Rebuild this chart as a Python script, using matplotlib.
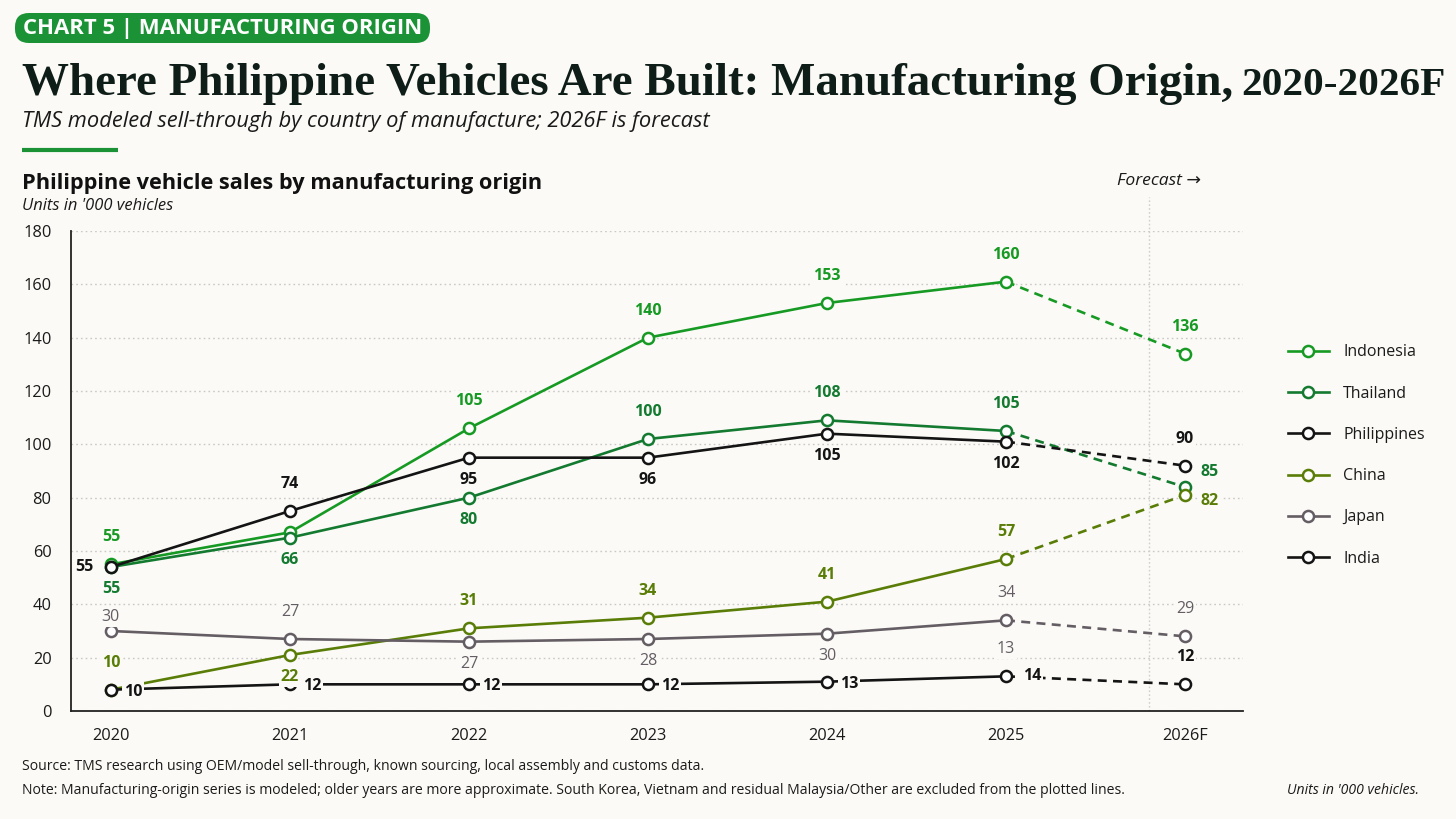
import matplotlib
matplotlib.use("Agg")
from matplotlib import pyplot as plt
from matplotlib.patches import FancyBboxPatch

# ---- data ----
years = ['2020', '2021', '2022', '2023', '2024', '2025', '2026F']
names = ['Indonesia', 'Thailand', 'Philippines', 'China', 'Japan', 'India']

indonesia = [55, 67, 106, 140, 153, 161, 134]
thailand = [54, 65, 80, 102, 109, 105, 84]
philippines = [54, 75, 95, 95, 104, 101, 92]
china = [8, 21, 31, 35, 41, 57, 81]
japan = [30, 27, 26, 27, 29, 34, 28]
india = [8, 10, 10, 10, 11, 13, 10]

# printed value labels and where they sit (a=above, b=below, r=right ...)
lab_indonesia = ['55', None, '105', '140', '153', '160', '136']
pos_indonesia = ['a', None, 'a', 'a', 'a', 'a', 'a']
lab_thailand = ['55', '66', '80', '100', '108', '105', '85']
pos_thailand = ['b', 'b', 'b', 'a', 'a', 'a', 'ru']
lab_philippines = ['55', '74', '95', '96', '105', '102', '90']
pos_philippines = ['l', 'a', 'b', 'b', 'b', 'b', 'a']
lab_china = ['10', '22', '31', '34', '41', '57', '82']
pos_china = ['a', 'b', 'a', 'a', 'a', 'a', 'rd']
lab_japan = ['30', '27', '27', '28', '30', '34', '29']
pos_japan = ['a2', 'a', 'b', 'b', 'b', 'a', 'a']
lab_japan_extra = [None, None, None, None, None, '13', None]
lab_india = ['10', '12', '12', '12', '13', '14', '12']
pos_india = ['r', 'r', 'r', 'r', 'r', 'r2', 'a']

series = [indonesia, thailand, philippines, china, japan, india]
labels = [lab_indonesia, lab_thailand, lab_philippines, lab_china, lab_japan, lab_india]
places = [pos_indonesia, pos_thailand, pos_philippines, pos_china, pos_japan, pos_india]

colors = ['#179a24', '#137a30', '#141414', '#5a7d08', '#645e64', '#141414']
weights = ['bold', 'bold', 'bold', 'bold', 'normal', 'bold']

BG = '#fbfaf6'
GREEN = '#1b9235'
INK = '#1a1a1a'
W, H = 1456, 819

# offsets in pixels (dx, dy up)
offs = {'a': (0, 27), 'a2': (0, 14), 'b': (0, -22), 'b2': (0, -29),
        'r': (22, -2), 'r2': (26, 0), 'l': (-27, 0),
        'ru': (25, 15), 'rd': (25, -6)}

plt.rcParams['font.family'] = ['Open Sans', 'DejaVu Sans']

fig = plt.figure(figsize=(W / 100, H / 100), dpi=100, facecolor=BG)
r = fig.canvas.get_renderer()

# pixel overlay for header / footer
ov = fig.add_axes([0, 0, 1, 1], zorder=-1)
ov.set_xlim(0, W)
ov.set_ylim(H, 0)
ov.axis('off')


def fit(t, width):
    # scale font so the text is `width` pixels wide
    bb = t.get_window_extent(r)
    t.set_fontsize(t.get_fontsize() * width / bb.width)
    return t


ax = fig.add_axes([71 / W, 1 - 711 / H, (1243 - 71) / W, (711 - 231) / H])
ax.set_facecolor(BG)

xs = list(range(len(years)))
for i, s in enumerate(series):
    c = colors[i]
    ax.plot(xs[:6], s[:6], color=c, lw=1.9, marker='o', ms=8, mfc='white',
            mec=c, mew=1.8, zorder=4, label=names[i])
    ax.plot(xs[5:], s[5:], color=c, lw=1.9, ls=(0, (3.4, 2.4)), marker='o',
            ms=8, mfc='white', mec=c, mew=1.8, markevery=[1], zorder=3)
    for j, t in enumerate(labels[i]):
        if t is None:
            continue
        dx, dy = offs[places[i][j]]
        ax.annotate(t, (xs[j], s[j]), xytext=(dx * 0.72, dy * 0.72),
                    textcoords='offset points', ha='center', va='center',
                    fontsize=11.5, color=c, fontweight=weights[i], zorder=6,
                    bbox=dict(boxstyle='square,pad=0.12', fc=BG, ec='none'))
    if names[i] == 'Japan':
        for j, t in enumerate(lab_japan_extra):
            if t is None:
                continue
            dx, dy = offs['b2']
            ax.annotate(t, (xs[j], s[j]), xytext=(dx * 0.72, dy * 0.72),
                        textcoords='offset points', ha='center', va='center',
                        fontsize=11.5, color=c, zorder=6,
                        bbox=dict(boxstyle='square,pad=0.12', fc=BG, ec='none'))

ax.set_xlim(-0.223, 6.324)
ax.set_ylim(0, 180)
ax.set_yticks(range(0, 181, 20))
ax.set_xticks(xs)
ax.set_xticklabels(years)
ax.tick_params(length=0, labelsize=11.8, colors=INK)
ax.tick_params(axis='y', pad=14)
ax.tick_params(axis='x', pad=12)
ax.grid(axis='y', color='#c9c9c9', ls=(0, (1.2, 2.2)), lw=1.0)
ax.set_axisbelow(True)
for sp in ['top', 'right']:
    ax.spines[sp].set_visible(False)
for sp in ['left', 'bottom']:
    ax.spines[sp].set_color('#222222')
    ax.spines[sp].set_linewidth(1.3)

# forecast divider
ax.axvline(5.8, ymin=0, ymax=1 + (231 - 197) / 480, color='#cfcfcf',
           ls=(0, (1.2, 1.6)), lw=1.0, clip_on=False, zorder=1)
fit(ov.text(1117, 181, 'Forecast \u2192', ha='left', va='center',
            fontsize=10, style='italic', color=INK), 84)

# legend
handles = ax.get_lines()[0::2]
leg = fig.legend(handles, names, loc='center left',
                 bbox_to_anchor=(1288 / W, 1 - 455.5 / H), frameon=False,
                 fontsize=11.5, handlelength=2.55, handletextpad=0.9,
                 labelspacing=1.58, borderpad=0, borderaxespad=0)
for t in leg.get_texts():
    t.set_color(INK)

# header
ov.add_patch(FancyBboxPatch((15, 13), 415, 30,
                            boxstyle='round,pad=0,rounding_size=14',
                            fc=GREEN, ec='none'))
fit(ov.text(23, 28.5, 'CHART 5 | MANUFACTURING ORIGIN', ha='left',
            va='center', fontsize=14.5, fontweight='bold', color='white'), 399)

title = ov.text(22, 95, 'Where Philippine Vehicles Are Built: Manufacturing Origin,',
                ha='left', va='baseline', fontsize=40, fontweight='bold',
                family='Liberation Serif', color='#0f1d19')
fit(title, 1232 - 22)
bb = title.get_window_extent(r)
yr = ov.text(bb.x1 + 8, 95, '2020-2026F', ha='left', va='baseline',
             fontsize=30, fontweight='bold', family='Liberation Serif',
             color='#0f1d19')
bb2 = yr.get_window_extent(r)
yr.set_fontsize(30 * min(1.0, (1445 - bb.x1 - 8) / bb2.width))

fit(ov.text(22, 122, 'TMS modeled sell-through by country of manufacture; 2026F is forecast',
            ha='left', va='center', fontsize=14, style='italic', color=INK), 690)
ov.plot([22, 118], [150, 150], color=GREEN, lw=3, solid_capstyle='butt')
fit(ov.text(22, 183, 'Philippine vehicle sales by manufacturing origin',
            ha='left', va='center', fontsize=14.5, fontweight='bold',
            color='#111111'), 522)
fit(ov.text(22, 206, "Units in '000 vehicles", ha='left', va='center',
            fontsize=10, style='italic', color=INK), 151)

# footer
note = fit(ov.text(22, 790, 'Note: Manufacturing-origin series is modeled; older years are more approximate. South Korea, Vietnam and residual Malaysia/Other are excluded from the plotted lines.',
                   ha='left', va='center', fontsize=10, color=INK), 1099)
ov.text(22, 766, 'Source: TMS research using OEM/model sell-through, known sourcing, local assembly and customs data.',
        ha='left', va='center', fontsize=note.get_fontsize(), color=INK)
ov.text(1419, 791, "Units in '000 vehicles.", ha='right', va='center',
        fontsize=note.get_fontsize(), style='italic', color=INK)

fig.savefig('out.png', dpi=100, facecolor=BG)
